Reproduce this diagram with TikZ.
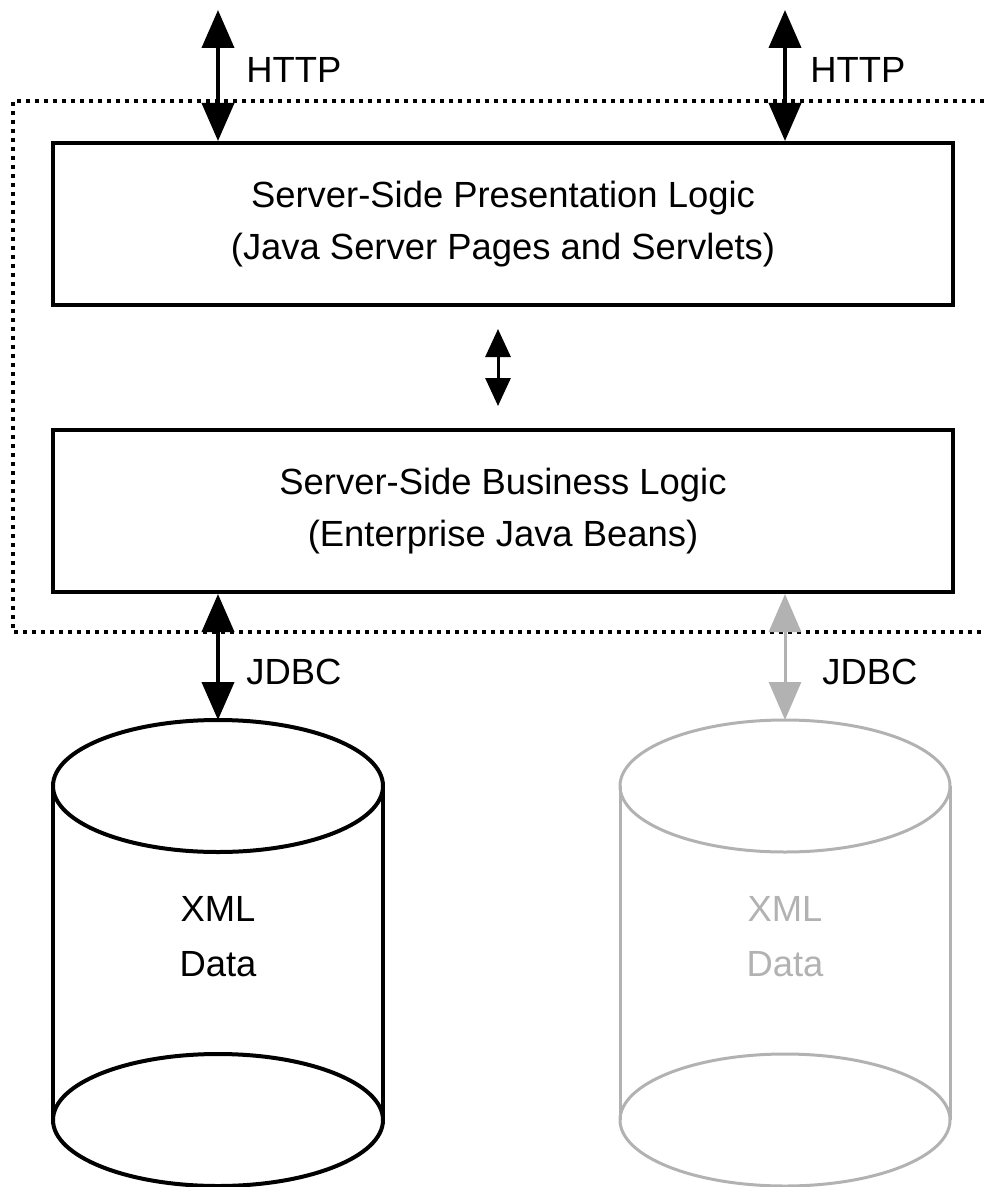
\documentclass[tikz,border=0pt]{standalone}
\usepackage{fontspec}
\setmainfont{Liberation Sans}
\usetikzlibrary{arrows.meta}

\definecolor{faded}{RGB}{178,178,178}

\tikzset{
    tier/.style={draw, line width=2pt, minimum width=450pt, minimum height=81pt,
        align=center, font=\fontsize{18.2}{26}\selectfont},
    lbl/.style={anchor=west, inner sep=0pt, font=\fontsize{18.2}{22}\selectfont},
    dbtext/.style={align=center, inner sep=0pt, font=\fontsize{18.2}{27.5}\selectfont},
    duplex/.style={line width=2pt,
        {Triangle[width=16pt,length=19pt]}-{Triangle[width=16pt,length=19pt]}},
    smallduplex/.style={line width=1.5pt,
        {Triangle[width=12.5pt,length=14pt]}-{Triangle[width=12.5pt,length=14pt]}},
    tierframe/.style={line width=2pt, dash pattern=on 2pt off 2.5pt},
    drum/.style={line width=2pt},
}

\begin{document}
\begin{tikzpicture}[x=0.5pt, y=-0.5pt]
    \useasboundingbox (0,0) rectangle (984,1187);

    % server boundary
    \draw[tierframe] (984,101) -- (13,101) -- (13,632) -- (984,632);

    \node[tier] (pres) at (503,224) {Server-Side Presentation Logic\\(Java Server Pages and Servlets)};
    \node[tier] (busi) at (503,511) {Server-Side Business Logic\\(Enterprise Java Beans)};

    \coordinate (webL) at (218,10);
    \coordinate (webR) at (785,10);
    \coordinate (dbL) at (218,720);
    \coordinate (dbR) at (785,720);

    % databases
    \begin{scope}[drum]
        \draw (218,786) ellipse [x radius=82.5pt, y radius=33pt];
        \draw (218,1120) ellipse [x radius=82.5pt, y radius=33pt];
        \draw (53,786) -- (53,1120) (383,786) -- (383,1120);
        \node[dbtext] (xmlL) at (218,937) {XML\\Data};
    \end{scope}
    \begin{scope}[drum, faded, line width=1.5pt]
        \draw (785,786) ellipse [x radius=82.5pt, y radius=33pt];
        \draw (785,1120) ellipse [x radius=82.5pt, y radius=33pt];
        \draw (620,786) -- (620,1120) (950,786) -- (950,1120);
        \node[dbtext] (xmlR) at (785,937) {XML\\Data};
    \end{scope}

    \draw[duplex] (webL) to (webL |- pres.north);
    \draw[duplex] (webR) to (webR |- pres.north);
    \draw[smallduplex, shorten <=11pt, shorten >=11pt] ([xshift=-2.5pt]pres.south) to ([xshift=-2.5pt]busi.north);
    \draw[duplex] (dbL |- busi.south) to (dbL);
    \draw[duplex, faded, line width=1.5pt] (dbR |- busi.south) to (dbR);

    \node[lbl] (httpL) at (246,70) {HTTP};
    \node[lbl] (httpR) at (810,70) {HTTP};
    \node[lbl] (jdbcL) at (246,672) {JDBC};
    \node[lbl] (jdbcR) at (822,672) {JDBC};
\end{tikzpicture}
\end{document}
